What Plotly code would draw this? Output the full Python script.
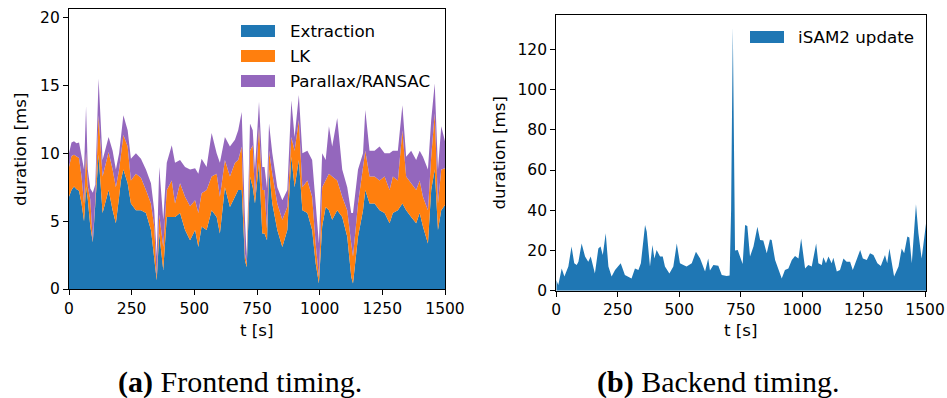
import plotly.graph_objects as go

# ---------------- data: frontend timing (stacked) ----------------
t_front = [0, 10, 20, 30, 40, 50, 60, 68, 75, 85, 95, 105, 118, 134, 158, 174, 187, 200, 207, 217,
           234, 247, 267, 287, 307, 327, 340, 350, 360, 376, 390, 410, 423, 443, 463, 483, 503, 516,
           529, 549, 569, 589, 602, 622, 642, 662, 675, 689, 702, 709, 722, 733, 742, 758, 771, 780,
           790, 798, 811, 831, 851, 871, 887, 900, 917, 931, 951, 970, 984, 997, 1010, 1024, 1037,
           1050, 1070, 1090, 1110, 1126, 1133, 1153, 1173, 1182, 1199, 1219, 1239, 1259, 1279, 1292,
           1312, 1330, 1345, 1365, 1385, 1399, 1412, 1432, 1445, 1459, 1472, 1485, 1500]
extraction = [6.8, 7.3, 7.55, 7.35, 7.25, 6.3, 5.0, 7.55, 6.6, 4.6, 3.45, 6.1, 9.9, 5.6, 7.3, 5.8, 4.85, 6.8, 8.0, 8.8,
              7.8, 6.3, 5.8, 5.8, 5.6, 4.35, 2.4, 0.65, 4.1, 1.4, 5.3, 5.3, 5.3, 5.6, 4.35, 3.6, 4.35, 3.1,
              4.6, 4.35, 5.8, 5.3, 4.1, 7.5, 6.05, 6.8, 7.3, 7.3, 2.1, 1.6, 8.3, 7.5, 6.3, 9.3, 4.1, 4.1,
              3.6, 8.8, 6.3, 4.35, 3.1, 4.35, 9.75, 7.5, 9.5, 5.8, 5.6, 4.35, 1.9, 0.4, 4.6, 6.05, 5.8,
              5.1, 5.8, 5.3, 3.85, 0.9, 0.4, 3.85, 5.8, 7.3, 6.3, 6.3, 5.8, 5.6, 4.85, 5.6,
              5.8, 6.3, 5.8, 5.3, 4.85, 5.6, 4.6, 3.35, 7.3, 8.8, 4.35, 5.8, 6.2]
lk = [2.2, 2.5, 2.35, 2.45, 2.4, 2.0, 1.3, 2.55, 0.95, 2.0, 0.05, 0.5, 2.9, 2.7, 2.8, 3.0, 2.65, 2.0, 1.75, 2.55,
      2.7, 1.7, 2.7, 2.4, 1.7, 1.95, 2.2, 0.25, 1.4, 1.7, 2.0, 2.7, 1.0, 2.2, 2.45, 2.5, 2.2, 2.5,
      2.45, 2.95, 2.5, 3.2, 2.7, 2.0, 2.25, 2.5, 2.2, 3.2, 0.5, 0.3, 1.9, 3.1, 0.5, 2.7, 3.2, 3.2,
      0.8, 1.4, 2.2, 1.95, 2.0, 1.7, 1.45, 2.7, 2.95, 1.7, 2.4, 2.45, 1.45, 0.5, 2.9, 1.95, 2.7,
      3.2, 2.2, 1.5, 1.95, 2.45, 2.0, 2.45, 3.0, 2.9, 2.0, 2.0, 2.2, 2.7, 2.45, 2.7,
      2.2, 5.4, 2.5, 2.5, 2.45, 2.4, 2.2, 2.45, 2.45, 4.15, 1.95, 3.0, 2.7]
parallax = [1.0, 1.0, 1.0, 0.95, 1.15, 1.45, 2.5, 3.35, 1.25, 0.8, 3.6, 1.1, 2.7, 1.2, 1.1, 1.4, 1.3, 1.2, 1.45, 1.45,
            1.2, 1.6, 1.5, 1.4, 1.5, 1.5, 1.2, 1.5, 3.5, 2.0, 2.0, 2.6, 3.0, 1.7, 2.2, 2.7, 2.35, 2.9,
            2.55, 1.7, 3.2, 1.5, 2.5, 1.7, 2.2, 1.7, 2.2, 2.55, 2.5, 0.5, 2.0, 1.1, 2.0, 1.8, 1.7, 1.7,
            3.0, 2.0, 1.5, 1.2, 1.45, 1.25, 2.7, 1.0, 1.85, 2.5, 2.2, 2.7, 2.95, 2.45, 2.5, 1.5, 3.5,
            2.2, 4.6, 2.0, 1.7, 2.25, 3.2, 2.5, 1.2, 3.0, 1.9, 1.9, 2.5, 1.7, 2.7, 1.9,
            2.2, 1.85, 1.45, 2.4, 2.2, 2.2, 2.95, 3.0, 2.7, 2.2, 2.5, 3.2, 2.0]

# ---------------- data: backend timing ----------------
t_back = [0, 8, 22, 33, 49, 62, 73, 83, 90, 103, 117, 130, 140, 157, 171, 180, 189, 201, 212, 225,
          239, 252, 262, 279, 306, 320, 334, 344, 361, 368, 381, 391, 399, 408, 422, 433, 442, 460,
          476, 490, 503, 517, 530, 551, 568, 585, 605, 618, 625, 639, 659, 673, 693, 705, 711, 718,
          727, 738, 747, 758, 768, 777, 788, 802, 818, 829, 842, 856, 869, 876, 890, 903, 917, 930,
          944, 958, 971, 985, 996, 1012, 1025, 1039, 1057, 1066, 1080, 1086, 1097, 1107, 1120, 1127,
          1141, 1154, 1168, 1181, 1195, 1206, 1222, 1236, 1247, 1263, 1276, 1290, 1306, 1320, 1337,
          1346, 1355, 1374, 1392, 1405, 1415, 1428, 1436, 1446, 1463, 1473, 1486, 1504]
isam2 = [5.3, 2.8, 11, 7, 12, 22, 13.6, 12.8, 14.4, 23.5, 17, 14.4, 17, 8.6, 21, 22, 17.7, 28.5, 12, 7,
         10.3, 12, 13.6, 7.8, 6.1, 11, 10.3, 13.6, 32.7, 29.3, 12, 22.7, 16, 20.2, 17, 17, 12, 8.6,
         12, 23.5, 13.6, 12.8, 12, 13.6, 19.4, 16, 9.5, 16, 10, 12.8, 12.4, 7.8, 7.3, 7.5, 40, 131,
         20, 20.2, 17, 13.3, 32.7, 32.2, 17, 22, 31.8, 25.2, 24.9, 18.6, 25.5, 25.2, 15.2, 11, 6.1, 10.3,
         11, 15.2, 17.2, 16, 26, 11, 12.8, 12, 23.5, 13.6, 12.8, 16.6, 13.6, 17, 13.6, 16.4,
         9.5, 10.3, 16, 14.4, 14.4, 10.3, 16, 20.2, 16, 15.2, 18.6, 17.7, 13.6, 12.3, 17.7,
         13.6, 21, 7, 12, 21, 18.6, 26.9, 26.5, 13.6, 43, 28.5, 16, 33.5]

series_names = ["Extraction", "LK", "Parallax/RANSAC"]
series_colors = ["#1f77b4", "#ff7f0e", "#9467bd"]
backend_name = "iSAM2 update"

x_ticks = [0, 250, 500, 750, 1000, 1250, 1500]
y_ticks_front = [0, 5, 10, 15, 20]
y_ticks_back = [0, 20, 40, 60, 80, 100, 120]

W, H = 947, 398
FONT = "DejaVu Sans"
TICK_SIZE = 15.5
TEXT_SIZE = 16.7

fig = go.Figure()
for name, vals, col in zip(series_names, [extraction, lk, parallax], series_colors):
    fig.add_trace(go.Scatter(x=t_front, y=vals, name=name, stackgroup="front",
                             mode="lines", line=dict(width=0, color=col), fillcolor=col,
                             xaxis="x", yaxis="y", showlegend=False, hoverinfo="skip"))
fig.add_trace(go.Scatter(x=t_back, y=isam2, name=backend_name, fill="tozeroy",
                         mode="lines", line=dict(width=0, color=series_colors[0]),
                         fillcolor=series_colors[0], xaxis="x2", yaxis="y2",
                         showlegend=False, hoverinfo="skip"))


def px_x(p):
    return p / W


def px_y(p):
    return 1 - p / H


axis_common = dict(showline=True, linecolor="black", linewidth=1.3, mirror=True,
                   ticks="outside", ticklen=5, tickwidth=1.3, tickcolor="black",
                   showgrid=False, zeroline=False, automargin=False,
                   tickfont=dict(family=FONT, size=TICK_SIZE, color="black"))

fig.update_layout(
    width=W, height=H, margin=dict(l=0, r=0, t=0, b=0, autoexpand=False),
    paper_bgcolor="white", plot_bgcolor="white", showlegend=False,
    xaxis=dict(domain=[px_x(69), px_x(445)], range=[0, 1500], tickvals=x_ticks,
               anchor="y", **axis_common),
    yaxis=dict(domain=[px_y(289), px_y(9)], range=[0, 20.64], tickvals=y_ticks_front,
               anchor="x", **axis_common),
    xaxis2=dict(domain=[px_x(556.3), px_x(926.3)], range=[0, 1505], tickvals=x_ticks,
                anchor="y2", **axis_common),
    yaxis2=dict(domain=[px_y(290.7), px_y(14.7)], range=[0, 137.2], tickvals=y_ticks_back,
                anchor="x2", **axis_common),
)

annotations = []
shapes = []
txt_font = dict(family=FONT, size=TEXT_SIZE, color="black")
# axis titles
for xc, yc in [(257, 330), (741, 330)]:
    annotations.append(dict(text="t [s]", x=px_x(xc), y=px_y(yc), xref="paper", yref="paper",
                            showarrow=False, xanchor="center", yanchor="middle", font=txt_font))
for xc, yc in [(20, 149), (498.5, 153)]:
    annotations.append(dict(text="duration [ms]", x=px_x(xc), y=px_y(yc), xref="paper",
                            yref="paper", showarrow=False, xanchor="center", yanchor="middle",
                            textangle=-90, font=txt_font))

# legends
leg_rows = [(31, series_names[0], series_colors[0]), (56, series_names[1], series_colors[1]),
            (81, series_names[2], series_colors[2])]
for yc, name, col in leg_rows:
    shapes.append(dict(type="rect", xref="paper", yref="paper", x0=px_x(241), x1=px_x(275),
                       y0=px_y(yc + 6), y1=px_y(yc - 6), fillcolor=col, line=dict(width=0)))
    annotations.append(dict(text=name, x=px_x(288), y=px_y(yc), xref="paper", yref="paper",
                            showarrow=False, xanchor="left", yanchor="middle", font=txt_font))
shapes.append(dict(type="rect", xref="paper", yref="paper", x0=px_x(750), x1=px_x(784),
                   y0=px_y(43), y1=px_y(31), fillcolor=series_colors[0], line=dict(width=0)))
annotations.append(dict(text=backend_name, x=px_x(796), y=px_y(37), xref="paper", yref="paper",
                        showarrow=False, xanchor="left", yanchor="middle", font=txt_font))

# captions
CAP = "Liberation Serif"
for xc, txt in [(240, "<b>(a)</b> Frontend timing."), (718, "<b>(b)</b> Backend timing.")]:
    annotations.append(dict(text=txt, x=px_x(xc), y=px_y(382), xref="paper", yref="paper",
                            showarrow=False, xanchor="center", yanchor="middle",
                            font=dict(family=CAP, size=30, color="black")))

fig.update_layout(annotations=annotations, shapes=shapes)
fig.write_html("out.html",
               post_script="document.documentElement.style.margin='0';"
                           "document.body.style.margin='0';document.body.style.padding='0';"
                           "document.body.style.overflow='hidden';")
